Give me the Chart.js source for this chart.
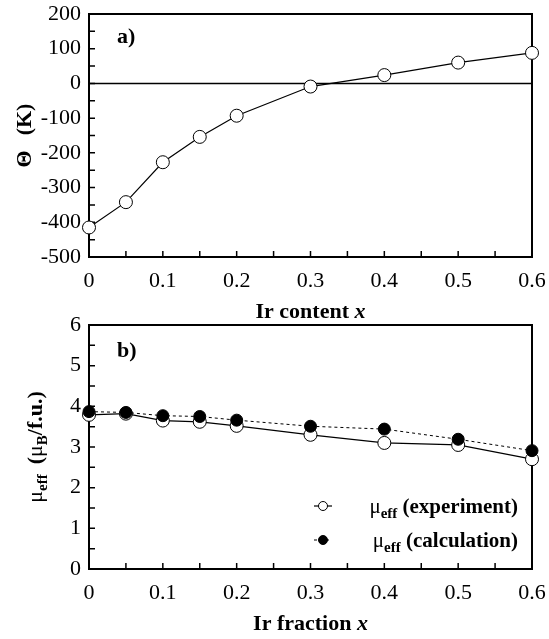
<!DOCTYPE html>
<html>
<head>
<meta charset="utf-8">
<script src="https://cdn.jsdelivr.net/npm/chart.js@4"></script>
<style>
  html, body { margin: 0; padding: 0; background: #fff; }
  #wrap { position: relative; width: 549px; height: 639px; }
  #wrap canvas { position: absolute; left: 0; top: 0; }
</style>
</head>
<body>
<div id="wrap">
  <canvas id="thetaChart" width="549" height="639"></canvas>
  <canvas id="muChart" width="549" height="639"></canvas>
</div>
<script>
// Ir content / fraction x
const irX = [0, 0.05, 0.1, 0.15, 0.2, 0.3, 0.4, 0.5, 0.6];
// Curie-Weiss temperature (K)
const thetaK = [-415, -342, -227, -154, -93, -9, 24, 60, 88];
// effective moment (muB per f.u.)
const muExperiment = [3.79, 3.82, 3.65, 3.62, 3.52, 3.30, 3.10, 3.05, 2.70];
const muCalculation = [3.87, 3.85, 3.77, 3.75, 3.66, 3.51, 3.44, 3.19, 2.91];

const SERIF = "'Liberation Serif', 'Times New Roman', serif";
const f = (size, weight, style) => `${style || ''} ${weight || ''} ${size}px ${SERIF}`;

const pts = ys => irX.map((x, i) => ({ x: x, y: ys[i] }));

// text made of pieces (sub-scripts, mixed weights)
function drawRich(ctx, parts, x, y, align) {
  let w = 0;
  parts.forEach(p => {
    ctx.font = p.font || f(20);
    p.w = p.gap != null ? p.gap : ctx.measureText(p.text).width;
    w += p.w;
  });
  let cx = align === 'center' ? x - w / 2 : align === 'right' ? x - w : x;
  ctx.textAlign = 'left';
  ctx.textBaseline = 'alphabetic';
  parts.forEach(p => {
    if (p.text) {
      ctx.font = p.font;
      ctx.fillText(p.text, cx, y + (p.dy || 0));
    }
    cx += p.w;
  });
}

function xLabel(v) {
  const k = Math.round(v * 100);
  if (k % 10 !== 0) return '';
  return k === 0 ? '0' : (k / 100).toFixed(1);
}

// box, inward ticks, titles
function makeFrame(cfg) {
  return {
    id: 'frame',
    beforeDatasetsDraw(chart) {
      const ctx = chart.ctx;
      const { left, right, top, bottom } = chart.chartArea;
      const xs = chart.scales.x, ys = chart.scales.y;
      ctx.save();
      ctx.strokeStyle = '#000';
      if (cfg.zeroLine) {
        const py = ys.getPixelForValue(0);
        ctx.lineWidth = 1.5;
        ctx.beginPath();
        ctx.moveTo(left, py);
        ctx.lineTo(right, py);
        ctx.stroke();
      }
      ctx.lineWidth = 1.5;
      ctx.beginPath();
      xs.ticks.forEach(t => {
        const px = xs.getPixelForValue(t.value);
        ctx.moveTo(px, bottom);
        ctx.lineTo(px, bottom - 6);
      });
      ys.ticks.forEach(t => {
        const py = ys.getPixelForValue(t.value);
        ctx.moveTo(left, py);
        ctx.lineTo(left + 6, py);
      });
      ctx.stroke();
      ctx.lineWidth = 2;
      ctx.strokeRect(left, top, right - left, bottom - top);
      ctx.restore();
    },
    afterDraw(chart) {
      const ctx = chart.ctx;
      const { left, right, top, bottom } = chart.chartArea;
      ctx.save();
      ctx.fillStyle = '#000';
      // panel letter
      ctx.font = f(22, 'bold');
      ctx.textAlign = 'left';
      ctx.textBaseline = 'alphabetic';
      ctx.fillText(cfg.letter, left + 28, top + cfg.letterDy);
      // x title
      drawRich(ctx, cfg.xTitle, (left + right) / 2, bottom + 61, 'center');
      // y title, rotated
      ctx.save();
      ctx.translate(cfg.yTitleX, (top + bottom) / 2);
      ctx.rotate(-Math.PI / 2);
      drawRich(ctx, cfg.yTitle, 0, 0, 'center');
      ctx.restore();
      // legend
      if (cfg.legend) {
        cfg.legend.forEach(item => {
          const ds = chart.data.datasets[item.index];
          ctx.save();
          ctx.strokeStyle = ds.borderColor;
          ctx.lineWidth = ds.borderWidth;
          ctx.setLineDash(ds.borderDash || []);
          ctx.beginPath();
          ctx.moveTo(item.x0, item.y);
          ctx.lineTo(item.x0 + 18, item.y);
          ctx.stroke();
          ctx.setLineDash([]);
          ctx.beginPath();
          ctx.arc(item.x0 + 9, item.y, 4.5, 0, Math.PI * 2);
          ctx.fillStyle = ds.pointBackgroundColor;
          ctx.fill();
          ctx.lineWidth = 1;
          ctx.strokeStyle = '#000';
          ctx.stroke();
          ctx.restore();
          drawRich(ctx, item.parts, item.x1, item.y + 7, 'right');
        });
      }
      ctx.restore();
    }
  };
}

function baseScales(yMin, yMax, yStep, yCb) {
  return {
    x: {
      type: 'linear', min: 0, max: 0.6,
      grid: { display: false, drawTicks: false },
      border: { display: false },
      ticks: {
        stepSize: 0.05, autoSkip: false, maxRotation: 0, padding: 11,
        color: '#000', font: { family: SERIF, size: 22 },
        callback: xLabel
      },
      afterFit: s => { s.height = 40; s.paddingLeft = 0; s.paddingRight = 0; }
    },
    y: {
      min: yMin, max: yMax,
      grid: { display: false, drawTicks: false },
      border: { display: false },
      ticks: {
        stepSize: yStep, autoSkip: false, padding: 8,
        color: '#000', font: { family: SERIF, size: 22 },
        callback: yCb
      },
      afterFit: s => { s.width = 89; s.paddingTop = 0; s.paddingBottom = 0; }
    }
  };
}

const common = {
  responsive: false,
  animation: false,
  events: [],
  plugins: { legend: { display: false }, tooltip: { enabled: false } }
};

// a) Theta vs x
new Chart(document.getElementById('thetaChart'), {
  type: 'line',
  data: {
    datasets: [{
      label: 'Theta',
      data: pts(thetaK),
      borderColor: '#000',
      borderWidth: 1.2,
      pointRadius: 6.5,
      pointBackgroundColor: '#fff',
      pointBorderColor: '#000',
      pointBorderWidth: 1,
      clip: false
    }]
  },
  options: Object.assign({}, common, {
    layout: { padding: { left: 0, top: 14, right: 17, bottom: 342 } },
    scales: baseScales(-500, 200, 50, v => v % 100 === 0 ? String(v) : '')
  }),
  plugins: [makeFrame({
    letter: 'a)', letterDy: 29, zeroLine: true,
    xTitle: [
      { text: 'Ir content ', font: f(22, 'bold') },
      { text: 'x', font: f(22, 'bold', 'italic') }
    ],
    yTitleX: 31,
    yTitle: [
      { text: 'Θ', font: f(22, 'bold') },
      { gap: 15 },
      { text: '(K)', font: f(22, 'bold') }
    ]
  })]
});

// b) mu_eff vs x
new Chart(document.getElementById('muChart'), {
  type: 'line',
  data: {
    datasets: [{
      label: 'calculation',
      data: pts(muCalculation),
      borderColor: '#000',
      borderWidth: 1,
      borderDash: [3, 3],
      pointRadius: 6,
      pointBackgroundColor: '#000',
      pointBorderColor: '#000',
      pointBorderWidth: 1,
      order: 0,
      clip: false
    }, {
      label: 'experiment',
      data: pts(muExperiment),
      borderColor: '#000',
      borderWidth: 1.2,
      pointRadius: 6.5,
      pointBackgroundColor: '#fff',
      pointBorderColor: '#000',
      pointBorderWidth: 1,
      order: 1,
      clip: false
    }]
  },
  options: Object.assign({}, common, {
    layout: { padding: { left: 0, top: 325, right: 17, bottom: 30 } },
    scales: baseScales(0, 6, 0.5, v => Number.isInteger(v) ? String(v) : '')
  }),
  plugins: [makeFrame({
    letter: 'b)', letterDy: 32,
    xTitle: [
      { text: 'Ir fraction ', font: f(22, 'bold') },
      { text: 'x', font: f(22, 'bold', 'italic') }
    ],
    yTitleX: 42,
    yTitle: [
      { text: 'μ', font: f(22) },
      { text: 'eff', font: f(15, 'bold'), dy: 5 },
      { gap: 10 },
      { text: '(', font: f(22, 'bold') },
      { text: 'μ', font: f(22) },
      { text: 'B', font: f(15, 'bold'), dy: 5 },
      { text: '/f.u.)', font: f(22, 'bold') }
    ],
    legend: [{
      index: 1, x0: 314, x1: 518, y: 506,
      parts: [
        { text: 'μ', font: f(21) },
        { text: 'eff', font: f(15, 'bold'), dy: 5 },
        { text: ' (experiment)', font: f(21, 'bold') }
      ]
    }, {
      index: 0, x0: 314, x1: 518, y: 540,
      parts: [
        { text: 'μ', font: f(21) },
        { text: 'eff', font: f(15, 'bold'), dy: 5 },
        { text: ' (calculation)', font: f(21, 'bold') }
      ]
    }]
  })]
});
</script>
</body>
</html>
